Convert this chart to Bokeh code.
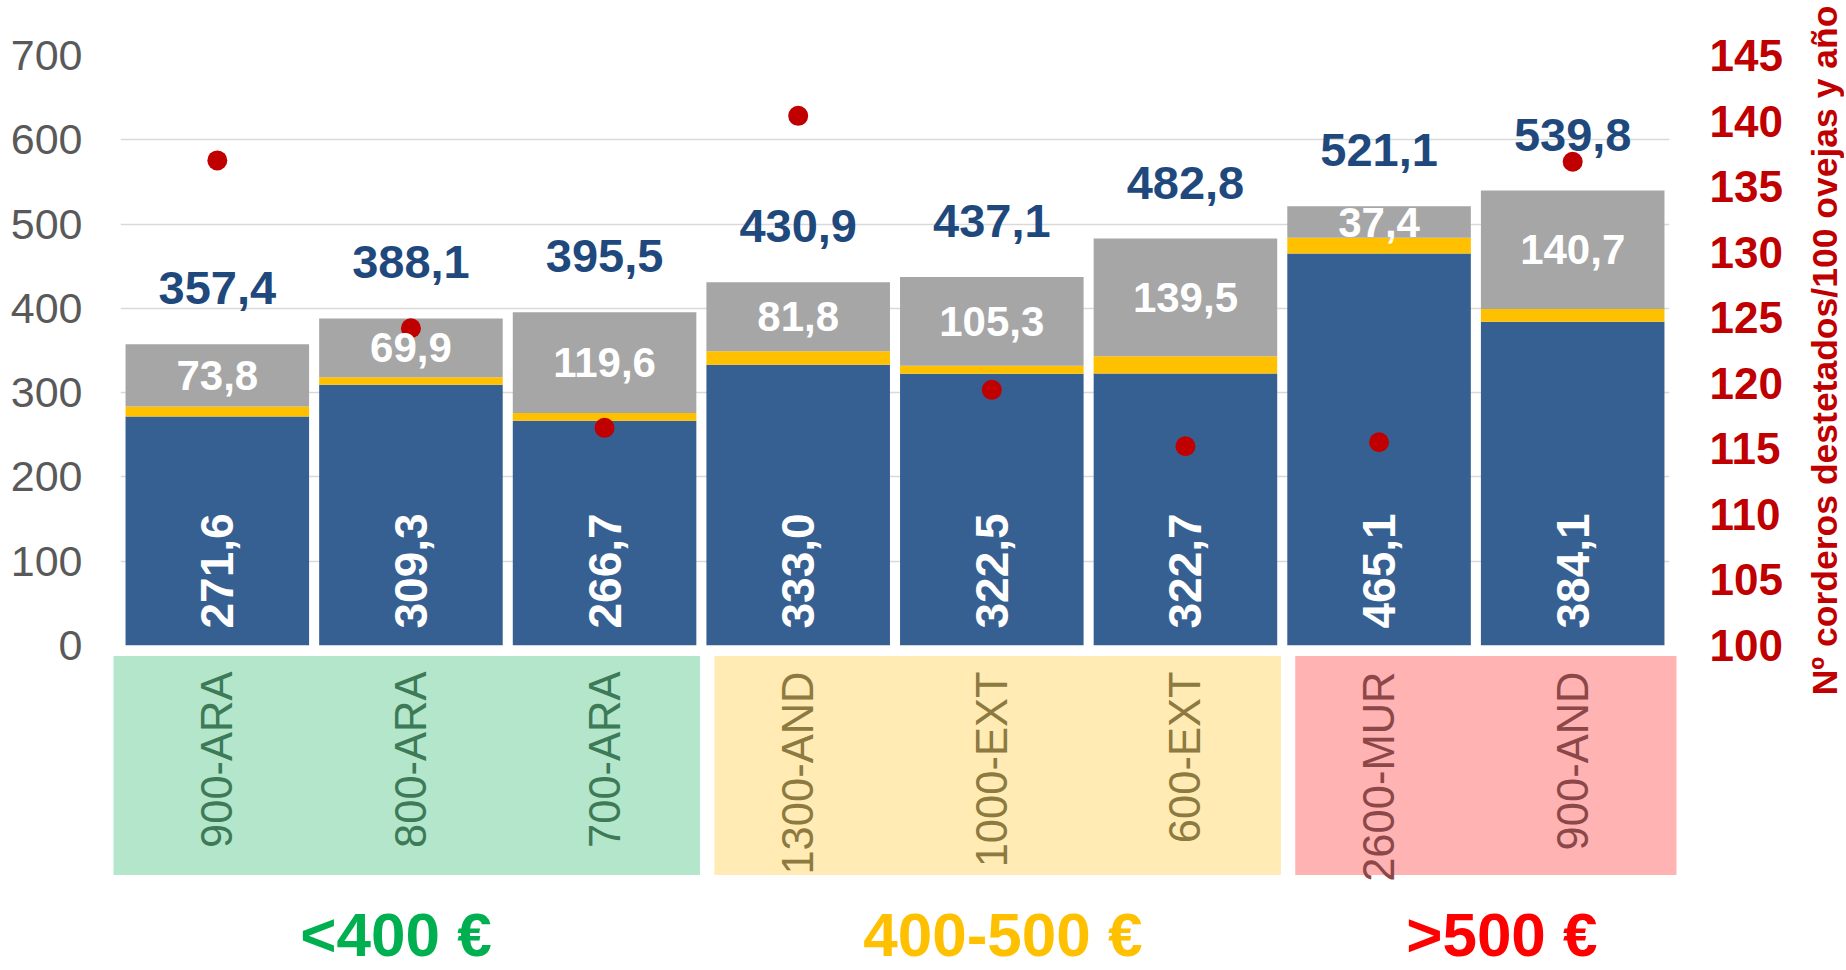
import numpy as np
from bokeh.plotting import figure
from bokeh.models import Range1d, LinearAxis, FixedTicker, ColumnDataSource
from bokeh.core.properties import value
from bokeh.embed import file_html
from bokeh.resources import INLINE

# ---------------- data ----------------
categories = ["900-ARA", "800-ARA", "700-ARA", "1300-AND", "1000-EXT", "600-EXT", "2600-MUR", "900-AND"]
blue_vals = [271.6, 309.3, 266.7, 333.0, 322.5, 322.7, 465.1, 384.1]
yellow_vals = [12.0, 8.9, 9.2, 16.1, 9.3, 20.6, 18.6, 15.0]
gray_vals = [73.8, 69.9, 119.6, 81.8, 105.3, 139.5, 37.4, 140.7]
lambs = [137.0, 124.2, 116.6, 140.4, 119.5, 115.2, 115.5, 136.9]
groups = ["<400 €", "400-500 €", ">500 €"]
group_sizes = [3, 3, 2]
left_ticks = [0, 100, 200, 300, 400, 500, 600, 700]
right_ticks = [100, 105, 110, 115, 120, 125, 130, 135, 140, 145]
right_title = "Nº corderos destetados/100 ovejas y año"

# ---------------- styles ----------------
BLUE = "#376092"
YELLOW = "#FFC000"
GRAY = "#A6A6A6"
DOT = "#C00000"
TOTAL_C = "#1F497D"
group_fill = ["#B3E6CA", "#FFEBB3", "#FFB3B3"]
group_text = ["#3D7A57", "#8C7A40", "#8C4848"]
group_label_c = ["#00B050", "#FFC000", "#FF0000"]
group_label_dx = [-15, 11, 26]  # px nudges of the group captions
FONT_S = "Liberation Sans"
FONT = value(FONT_S)


def fmt(v):
    return f"{v:.1f}".replace(".", ",")


n = len(categories)
x = np.arange(n) + 0.5
blue = np.array(blue_vals)
yel = np.array(yellow_vals)
gry = np.array(gray_vals)
top_y = blue + yel
total = np.round(top_y + gry, 1)

cat_colors = []
for gi, s in enumerate(group_sizes):
    cat_colors += [group_text[gi]] * s

src = ColumnDataSource(dict(
    x=x, blue=blue, top_y=top_y, total=total,
    gray_mid=top_y + gry / 2,
    blue_lbl=[fmt(v) for v in blue_vals],
    gray_lbl=[fmt(v) for v in gray_vals],
    total_lbl=[fmt(v) for v in total],
    zero=np.zeros(n), lambs=lambs, cat=categories, cat_color=cat_colors,
))

p = figure(width=1844, height=968, x_range=Range1d(0, n),
           y_range=Range1d(left_ticks[0], left_ticks[-1]),
           output_backend="svg", toolbar_location=None, x_axis_type=None,
           min_border_left=120, min_border_top=55, min_border_bottom=323,
           min_border_right=175)
p.outline_line_color = None
p.background_fill_color = "white"

# left axis
ya = p.yaxis[0]
ya.ticker = FixedTicker(ticks=left_ticks)
ya.axis_line_color = None
ya.major_tick_line_color = None
ya.minor_tick_line_color = None
ya.major_tick_out = 0
ya.major_tick_in = 0
ya.major_label_text_font = FONT_S
ya.major_label_text_font_size = "43px"
ya.major_label_text_color = "#595959"
ya.major_label_standoff = 38

p.ygrid.ticker = FixedTicker(ticks=left_ticks)
p.ygrid.grid_line_color = "#D9D9D9"
p.ygrid.grid_line_width = 1.5

# right axis
p.extra_y_ranges = {"right": Range1d(right_ticks[0], right_ticks[-1])}
ra = LinearAxis(y_range_name="right", ticker=FixedTicker(ticks=right_ticks))
ra.axis_line_color = None
ra.major_tick_line_color = None
ra.minor_tick_line_color = None
ra.major_tick_out = 0
ra.major_tick_in = 0
ra.major_label_text_font = FONT_S
ra.major_label_text_font_style = "bold"
ra.major_label_text_font_size = "44px"
ra.major_label_text_color = DOT
ra.major_label_standoff = 40
p.add_layout(ra, "right")

# right axis title (reads bottom-to-top)
p.text(x=[n], y=[(left_ticks[0] + left_ticks[-1]) / 2], text=[right_title], angle=np.pi / 2,
       x_offset=155, text_align="center", text_baseline="middle", text_font=FONT,
       text_font_style="bold", text_font_size="35.5px", text_color=DOT, level="overlay")

# bars
W = 0.948
p.vbar(x="x", width=W, bottom=0, top="blue", source=src, fill_color=BLUE, line_color=None)
p.vbar(x="x", width=W, bottom="blue", top="top_y", source=src, fill_color=YELLOW, line_color=None)
p.vbar(x="x", width=W, bottom="top_y", top="total", source=src, fill_color=GRAY, line_color=None)

# dots
p.scatter(x="x", y="lambs", y_range_name="right", source=src, size=20,
          fill_color=DOT, line_color=None)

# labels on bars
p.text(x="x", y="total", text="total_lbl", source=src, text_align="center",
       text_baseline="middle", y_offset=-56, text_font=FONT, text_font_style="bold",
       text_font_size="47px", text_color=TOTAL_C)
p.text(x="x", y="gray_mid", text="gray_lbl", source=src, text_align="center",
       text_baseline="middle", text_font=FONT, text_font_style="bold",
       text_font_size="42px", text_color="white")
p.text(x="x", y="zero", text="blue_lbl", source=src, angle=np.pi / 2, text_align="left",
       text_baseline="middle", y_offset=-17, text_font=FONT, text_font_style="bold",
       text_font_size="46px", text_color="white")

# group boxes below the axis
starts = np.cumsum([0] + group_sizes[:-1])
ends = np.cumsum(group_sizes)
gap_shift, half_gap = 0.03, 0.037
lefts, rights = [], []
for gi in range(len(groups)):
    lefts.append(starts[gi] + gap_shift + half_gap if gi > 0 else starts[gi] - 0.036)
    rights.append(ends[gi] + gap_shift - half_gap if gi < len(groups) - 1 else ends[gi] + 0.036)
gsrc = ColumnDataSource(dict(
    left=lefts, right=rights, fill=group_fill, label=groups, lcolor=group_label_c,
    cx=[(a + b) / 2 for a, b in zip(starts, ends)], zero=[0] * len(groups),
    dx=group_label_dx,
    top=[-12.5] * len(groups), bottom=[-272.2] * len(groups),
))
p.quad(left="left", right="right", top="top", bottom="bottom", source=gsrc,
       fill_color="fill", line_color=None, level="overlay")

p.text(x="x", y="zero", text="cat", source=src, angle=np.pi / 2, text_align="right",
       text_baseline="middle", y_offset=26, text_font=FONT, text_font_size="43.5px",
       text_color="cat_color", level="overlay")

p.text(x="cx", y="zero", text="label", source=gsrc, text_align="center",
       text_baseline="middle", x_offset="dx", y_offset=289, text_font=FONT,
       text_font_style="bold", text_font_size="62px", text_color="lcolor", level="overlay")

open("out.html", "w").write(file_html(p, INLINE))
